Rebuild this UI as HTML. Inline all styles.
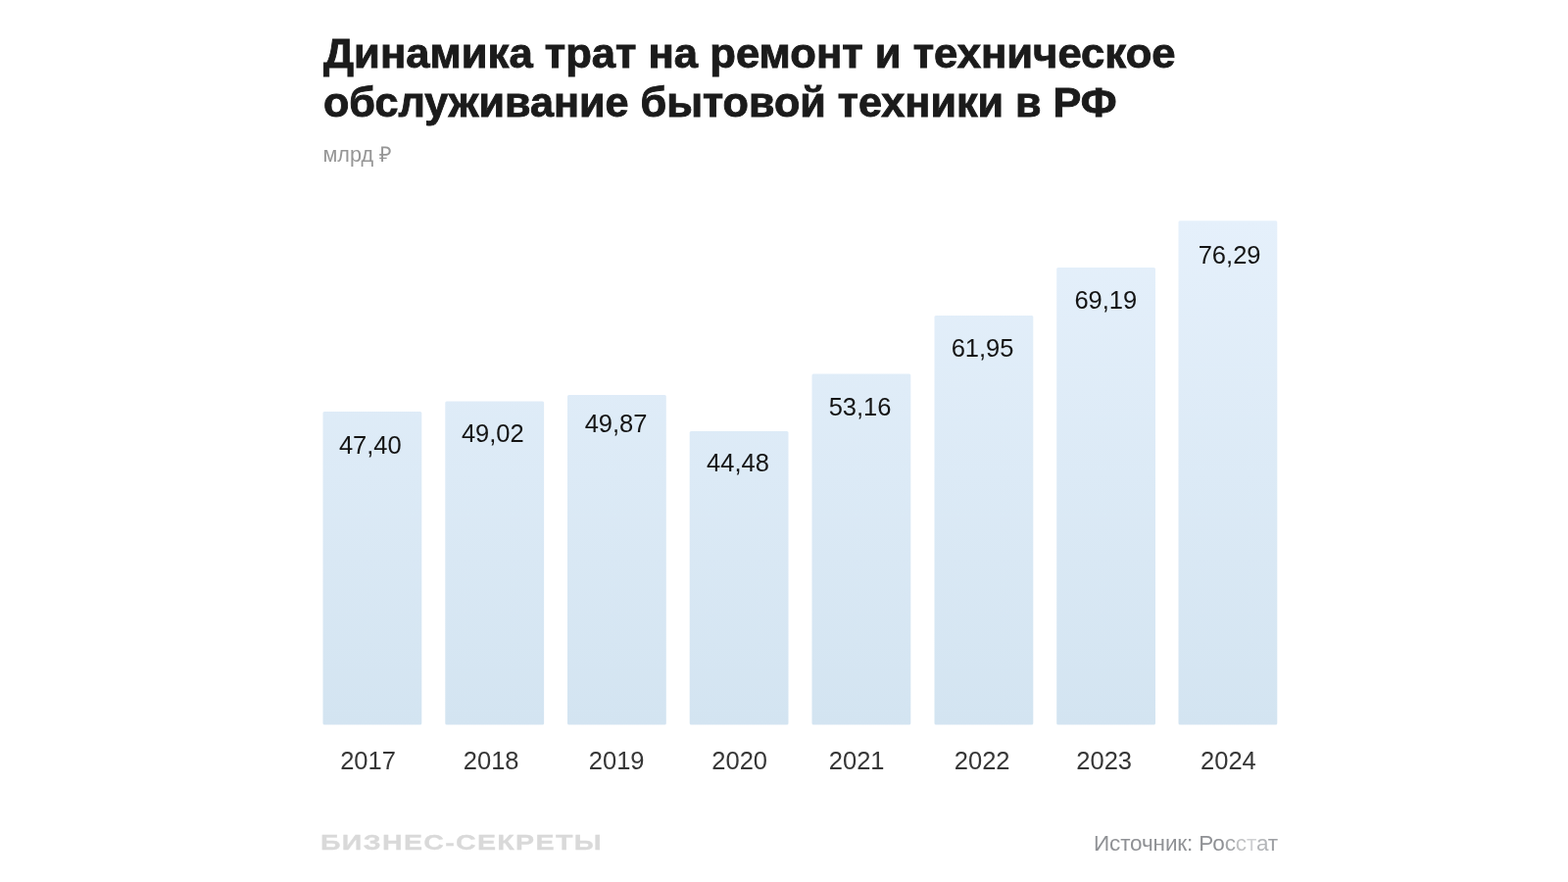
<!DOCTYPE html>
<html lang="ru">
<head>
<meta charset="utf-8">
<title>Динамика трат на ремонт и техническое обслуживание бытовой техники в РФ</title>
<style>
html,body{margin:0;padding:0;}
body{width:1600px;height:900px;background:#fff;position:relative;overflow:hidden;font-family:"Liberation Sans",sans-serif;color:#1a1a1a;}
.t{position:absolute;left:329.5px;font-size:42px;line-height:50px;-webkit-text-stroke:0.9px #1b1b1b;font-weight:bold;white-space:nowrap;color:#1b1b1b;transform-origin:left top;}
.t1{top:29.8px;transform:scaleX(1.0385);}
.t2{top:79.8px;transform:scaleX(1.0275);}
.unit{position:absolute;left:329.5px;top:144.2px;font-size:21.6px;line-height:28px;color:#969696;white-space:nowrap;}
.bar{position:absolute;width:101px;bottom:160.5px;background:linear-gradient(#e4effa,#d4e3f2) left bottom/100% 515px no-repeat;border-radius:1px 1px 0 0;}
.val{position:absolute;font-size:25.5px;line-height:28px;color:#141414;white-space:nowrap;}
.yr{position:absolute;top:761.8px;font-size:25.5px;line-height:28px;color:#363636;white-space:nowrap;}
.logo{position:absolute;left:327px;top:848px;font-size:22px;-webkit-text-stroke:0.3px #d9d9d9;line-height:24px;font-weight:bold;color:#d9d9d9;letter-spacing:1px;white-space:nowrap;transform-origin:left center;transform:scaleX(1.30);}
.src{position:absolute;left:1116px;top:847.6px;font-size:22.5px;line-height:26px;color:#8f9195;white-space:nowrap;letter-spacing:-0.12px;}
</style>
</head>
<body>
<div class="t t1">Динамика трат на ремонт и техническое</div>
<div class="t t2">обслуживание бытовой техники в РФ</div>
<div class="unit">млрд ₽</div>
<svg width="1600" height="900" viewBox="0 0 1600 900" style="position:absolute;left:0;top:0"><defs><linearGradient id="g" gradientUnits="userSpaceOnUse" x1="0" y1="225" x2="0" y2="740"><stop offset="0" stop-color="#e5f0fb"/><stop offset="1" stop-color="#d3e4f1"/></linearGradient></defs><rect x="329.5" y="420" width="100.8" height="319.50" rx="1.5" fill="url(#g)"/><rect x="454.3" y="409.4" width="100.8" height="330.10" rx="1.5" fill="url(#g)"/><rect x="579.0" y="403" width="100.8" height="336.50" rx="1.5" fill="url(#g)"/><rect x="703.7" y="440" width="100.8" height="299.50" rx="1.5" fill="url(#g)"/><rect x="828.5" y="381.4" width="100.8" height="358.10" rx="1.5" fill="url(#g)"/><rect x="953.5" y="322" width="100.8" height="417.50" rx="1.5" fill="url(#g)"/><rect x="1078.2" y="273" width="100.8" height="466.50" rx="1.5" fill="url(#g)"/><rect x="1202.5" y="225.3" width="100.8" height="514.20" rx="1.5" fill="url(#g)"/></svg>
<div class="val" style="left:345.90px;top:439.80px;">47,40</div>
<div class="val" style="left:470.90px;top:427.90px;">49,02</div>
<div class="val" style="left:596.65px;top:417.80px;">49,87</div>
<div class="val" style="left:721.05px;top:457.55px;">44,48</div>
<div class="val" style="left:845.65px;top:400.70px;">53,16</div>
<div class="val" style="left:970.65px;top:341.05px;">61,95</div>
<div class="val" style="left:1096.40px;top:292.30px;">69,19</div>
<div class="val" style="left:1222.70px;top:246.10px;">76,29</div>
<div class="yr" style="left:347.20px;">2017</div>
<div class="yr" style="left:472.80px;">2018</div>
<div class="yr" style="left:600.80px;">2019</div>
<div class="yr" style="left:726.30px;">2020</div>
<div class="yr" style="left:845.80px;">2021</div>
<div class="yr" style="left:973.80px;">2022</div>
<div class="yr" style="left:1098.30px;">2023</div>
<div class="yr" style="left:1225.05px;">2024</div>
<div class="logo">БИЗНЕС-СЕКРЕТЫ</div>
<div class="src">Источник: Ро<span style="color:#a4a6a9">с</span><span style="color:#c0c1c3">с</span><span style="color:#d0d1d3">т</span><span style="color:#b4b6b9">а</span><span style="color:#9ea0a4">т</span></div>
</body>
</html>
